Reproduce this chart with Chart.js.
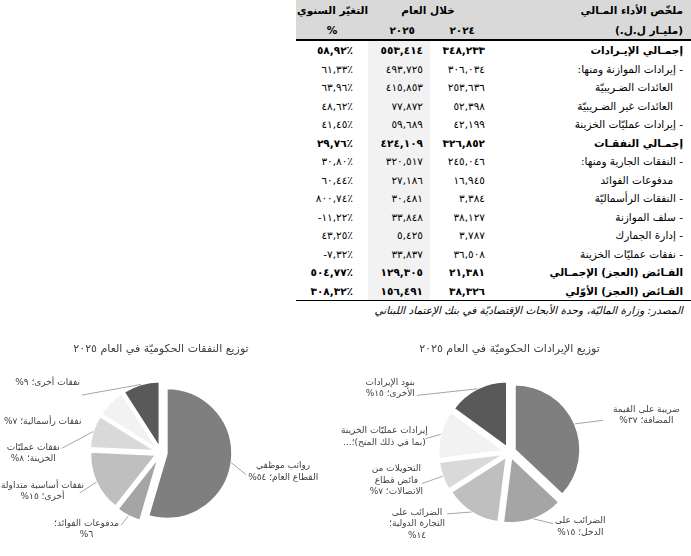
<!DOCTYPE html>
<html>
<head>
<meta charset="utf-8">
<script src="https://cdn.jsdelivr.net/npm/chart.js@4.4.1/dist/chart.umd.min.js"></script>
<style>
html, body { margin: 0; padding: 0; background: #fff; width: 691px; height: 556px; overflow: hidden; font-family: "DejaVu Sans", sans-serif; }
#summary { position: absolute; left: 296px; top: 0; width: 395px; border-collapse: collapse; table-layout: fixed; font-size: 10.5px; color: #000; }
#summary thead tr { background: #d9d9d9; height: 20px; }
#summary thead tr.sub th { border-bottom: 2px solid #000; }
#summary th { font-weight: bold; padding: 0; white-space: nowrap; }
#summary td { padding: 0; height: 18.5px; white-space: nowrap; }
#summary td.num { text-align: right; direction: ltr; letter-spacing: .5px; }
#summary td.y25 { background: #f2f2f2; }
#summary tr.bold td { font-weight: bold; }
#summary tbody tr:last-child td { border-bottom: 1px solid #000; }
#source { position: absolute; top: 303px; right: 8px; font-size: 10.5px; line-height: 14px; font-style: italic; direction: rtl; white-space: nowrap; }
.pie { position: absolute; top: 330px; height: 226px; }
</style>
</head>
<body>

<table id="summary" dir="rtl">
  <colgroup><col style="width:191px"><col style="width:70px"><col style="width:62px"><col style="width:72px"></colgroup>
  <thead>
    <tr>
      <th style="text-align:right;padding-right:8px">ملخّص الأداء المـالي</th>
      <th colspan="2" style="text-align:center;padding-right:12px">خلال العام</th>
      <th style="text-align:center;padding-left:10px">التغيّر السنوي</th>
    </tr>
    <tr class="sub">
      <th style="text-align:right;padding-right:8px">(مليـار ل.ل.)</th>
      <th id="h2024" style="text-align:right;padding-right:25px"></th>
      <th id="h2025" style="text-align:right;padding-right:15px"></th>
      <th style="text-align:center">%</th>
    </tr>
  </thead>
  <tbody id="rows"></tbody>
</table>
<div id="source">المصدر: وزارة الماليّة، وحدة الأبحاث الإقتصاديّة في بنك الإعتماد اللبناني</div>

<div class="pie" style="left:0;width:322px"><canvas id="expChart" dir="rtl"></canvas></div>
<div class="pie" style="left:340px;width:351px"><canvas id="revChart" dir="rtl"></canvas></div>

<script>
// table data (billion LBP)
var years = [2024, 2025];
var rowLabels = ['إجمـالي الإيـرادات', '- إيرادات الموازنة ومنها:', 'العائدات الضـريبيّة', 'العائدات غير الضـريبيّة',
    '- إيرادات عمليّات الخزينة', 'إجمـالي النفقـات', '- النفقات الجارية ومنها:', 'مدفوعات الفوائد',
    '- النفقات الرأسماليّة', '- سلف الموازنة', '- إدارة الجمارك', '- نفقات عمليّات الخزينة',
    'الفـائض (العجز) الإجمـالي', 'الفـائض (العجز) الأوّلي'];
var values2024 = [348233, 306034, 253636, 52398, 42199, 326852, 245046, 16945, 3384, 38127, 3787, 36508, 21381, 38326];
var values2025 = [553414, 493725, 415853, 77872, 59689, 424109, 320517, 27186, 30481, 33848, 5425, 33837, 129305, 156491];
var yearChange = [58.92, 61.33, 63.96, 48.62, 41.45, 29.76, 30.80, 60.44, 800.74, -11.22, 43.25, -7.32, 504.77, 308.32];
var boldRows = [0, 5, 12, 13];
var indentRows = [2, 3, 7];

// pie data, 2025 shares (%)
var expCategories = ['رواتب موظفي القطاع العام', 'مدفوعات الفوائد', 'نفقات أساسية متداولة أخرى', 'نفقات عمليّات الخزينة', 'نفقات رأسمالية', 'نفقات أخرى'];
var expShares = [54, 6, 15, 8, 7, 9];
var revCategories = ['ضريبة على القيمة المضافة', 'الضرائب على الدخل', 'الضرائب على التجارة الدولية', 'التحويلات من فائض قطاع الاتصالات', 'إيرادات عمليّات الخزينة (بما في ذلك المنح)', 'بنود الإيرادات الأخرى'];
var revShares = [37, 15, 14, 7, 12, 15];

var sliceGreys = ['#7f7f7f', '#a5a5a5', '#bfbfbf', '#d9d9d9', '#f2f2f2', '#595959'];
var FONT = '"DejaVu Sans", sans-serif';
var EXPLODE = 6;

var arDigits = function (s) {
    return String(s).replace(/\d/g, function (d) { return '٠١٢٣٤٥٦٧٨٩'[d]; });
};
var fmtNum = function (n) {
    return arDigits(String(n).replace(/\B(?=(\d{3})+(?!\d))/g, ','));
};
var fmtPct = function (n) {
    return arDigits(n.toFixed(2).replace('.', ',')) + '٪';
};

// build the table
document.getElementById('h2024').textContent = arDigits(years[0]);
document.getElementById('h2025').textContent = arDigits(years[1]);
var tbody = document.getElementById('rows');
rowLabels.forEach(function (label, i) {
    var tr = document.createElement('tr');
    if (boldRows.indexOf(i) >= 0) tr.className = 'bold';
    var pad = indentRows.indexOf(i) >= 0 ? 18 : 8;
    tr.innerHTML =
        '<td style="text-align:right;padding-right:' + pad + 'px">' + label + '</td>' +
        '<td class="num" style="padding-right:15px">' + fmtNum(values2024[i]) + '</td>' +
        '<td class="num y25" style="padding-right:7px">' + fmtNum(values2025[i]) + '</td>' +
        '<td class="num" style="padding-right:15px">' + fmtPct(yearChange[i]) + '</td>';
    tbody.appendChild(tr);
});

// draw each slice pushed out along its middle angle (Excel style explosion)
var explode = {
    id: 'explode',
    beforeDatasetDraw: function (chart, args) {
        var ctx = chart.ctx;
        args.meta.data.forEach(function (arc) {
            var a = (arc.startAngle + arc.endAngle) / 2;
            ctx.save();
            ctx.translate(EXPLODE * Math.cos(a), EXPLODE * Math.sin(a));
            arc.draw(ctx);
            ctx.restore();
        });
        return false;
    }
};

// outside labels with leader lines
var sliceLabels = {
    id: 'sliceLabels',
    afterDatasetsDraw: function (chart, args, opts) {
        var ctx = chart.ctx;
        var meta = chart.getDatasetMeta(0);
        var names = chart.data.labels;
        var vals = chart.data.datasets[0].data;
        ctx.save();
        ctx.font = opts.size + 'px ' + FONT;
        ctx.direction = 'rtl';
        ctx.textAlign = 'center';
        ctx.textBaseline = 'middle';
        meta.data.forEach(function (arc, i) {
            var L = opts.layout[i];
            var a = (arc.startAngle + arc.endAngle) / 2;
            var cos = Math.cos(a), sin = Math.sin(a);
            var edge = arc.outerRadius + EXPLODE;
            var base = edge + opts.distance;
            var ax = arc.x + base * cos + (L.dx || 0);
            var ay = arc.y + base * sin + (L.dy || 0);
            if (L.line !== false) {
                ctx.strokeStyle = '#a6a6a6';
                ctx.lineWidth = 1;
                ctx.beginPath();
                ctx.moveTo(arc.x + edge * cos, arc.y + edge * sin);
                ctx.lineTo(ax, ay);
                ctx.stroke();
            }
            var words = (names[i] + '؛ ' + arDigits(vals[i]) + '%').split(' ');
            var lines = [], cur = [];
            words.forEach(function (w, k) {
                cur.push(w);
                if (L.breaks.indexOf(k + 1) >= 0) { lines.push(cur.join(' ')); cur = []; }
            });
            if (cur.length) lines.push(cur.join(' '));
            if (L.maxLines && lines.length > L.maxLines) {
                lines = lines.slice(0, L.maxLines);
                lines[lines.length - 1] += '...';
            }
            var w = 0;
            lines.forEach(function (t) { w = Math.max(w, ctx.measureText(t).width); });
            var h = lines.length * opts.lineHeight;
            var cx = (cos > 0 ? ax + opts.gap + w / 2 : ax - opts.gap - w / 2) + (L.tx || 0);
            // keep the label inside the chart box
            cx = Math.max(cx, w / 2 + 1);
            cx = Math.min(cx, chart.width - w / 2 - 1);
            var top = ay - h / 2 + (L.ty || 0);
            ctx.fillStyle = '#404040';
            lines.forEach(function (t, k) {
                ctx.fillText(t, cx, top + opts.lineHeight * (k + 0.5));
            });
        });
        ctx.restore();
    }
};

var expLabelLayout = [
    {breaks: [2], dx: 1, dy: 10, ty: -3},
    {breaks: [2], dx: -1, dy: -3, ty: 4},
    {breaks: [3], dx: -4, dy: 5, ty: -2},
    {breaks: [2], dx: -18, dy: 21, ty: 5},
    {breaks: [], dx: -17, dy: 29, line: false},
    {breaks: [], dx: -55, dy: 24, ty: -12}
];
var revLabelLayout = [
    {breaks: [3], dx: 15.5, dy: 2, tx: 8, ty: -5},
    {breaks: [2], dx: 14.7, dy: -8.5, ty: 3},
    {breaks: [2, 4], dx: -17, dy: -10, ty: 10},
    {breaks: [2, 4], dx: -7.5, dy: 2.7, tx: 3, ty: -3},
    {breaks: [3, 7], maxLines: 2, dx: -2, dy: 7.7, ty: -2},
    {breaks: [2], dx: -54, dy: 19, ty: -7}
];

var makePie = function (id, title, labels, values, layout, padding) {
    return new Chart(document.getElementById(id), {
        type: 'pie',
        data: {
            labels: labels,
            datasets: [{
                data: values,
                backgroundColor: sliceGreys,
                borderColor: '#ffffff',
                borderWidth: 1.5,
                radius: 65
            }]
        },
        options: {
            responsive: true,
            maintainAspectRatio: false,
            animation: false,
            events: [],
            radius: 65,
            layout: {padding: padding},
            plugins: {
                legend: {display: false},
                tooltip: {enabled: false},
                title: {
                    display: true,
                    text: title,
                    color: '#404040',
                    font: {family: FONT, size: 11, weight: 'normal'},
                    padding: {top: 13, bottom: 8}
                },
                sliceLabels: {layout: layout, distance: 14, gap: 2, size: 9, lineHeight: 11.5}
            }
        },
        plugins: [explode, sliceLabels]
    });
};

makePie('expChart', 'توزيع النفقات الحكوميّة في العام ' + arDigits(years[1]), expCategories, expShares, expLabelLayout,
    {top: 0, left: 0, right: 0, bottom: 15});
makePie('revChart', 'توزيع الإيرادات الحكوميّة في العام ' + arDigits(years[1]), revCategories, revShares, revLabelLayout,
    {top: 0, left: 0, right: 12, bottom: 16});
</script>
</body>
</html>
